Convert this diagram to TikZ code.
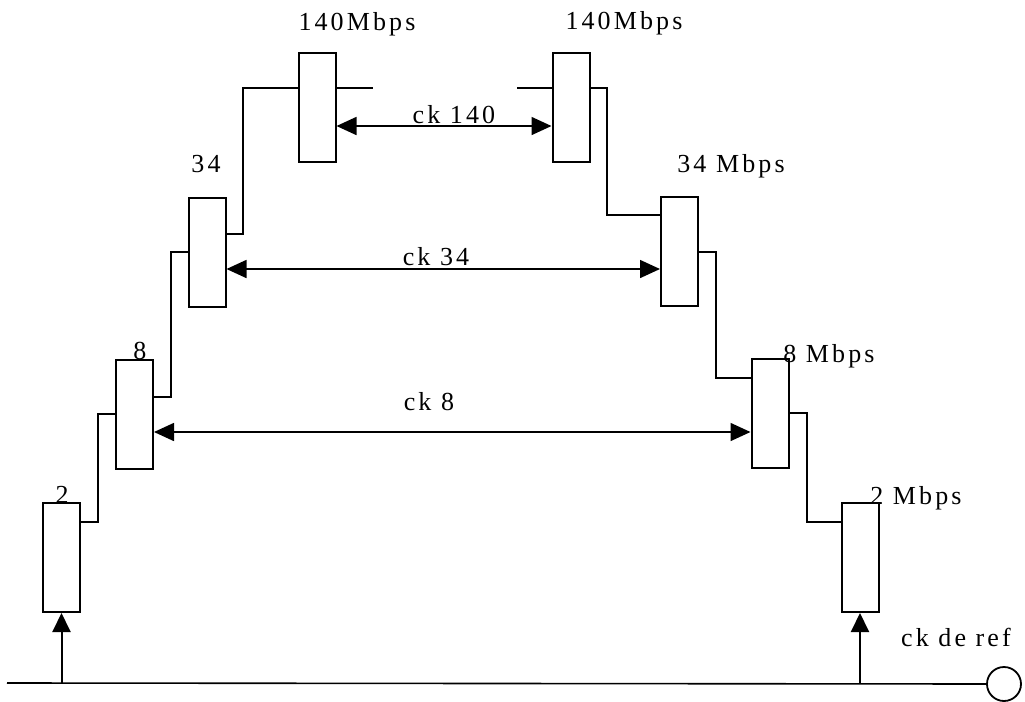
\documentclass[tikz,border=0pt]{standalone}
\usepackage{fontspec}
\setmainfont{Liberation Serif}[LetterSpace=12]
\usepackage{tikz}
\usetikzlibrary{arrows.meta, positioning, calc}
\tikzset{
  blknode/.style={rectangle,draw=black,line width=1pt,fill=white,inner sep=0pt,minimum width=18.5pt,minimum height=54.5pt},
  refnode/.style={circle,draw=black,line width=0.9pt,fill=white,inner sep=0pt,minimum size=17pt},
  wire/.style={line width=0.75pt,color=black},
  ckarr/.style={{Triangle[length=10pt,width=9pt]}-{Triangle[length=10pt,width=9pt]},line width=0.8pt},
  uparr/.style={-{Triangle[length=9.5pt,width=9pt]},line width=1pt},
  lbl/.style={anchor=base,inner sep=0pt,font=\fontsize{13}{15}\selectfont}
}
\begin{document}
\begin{tikzpicture}[x=0.5pt,y=-0.5pt]
  \useasboundingbox (0,0) rectangle (1025,702);

  %% Multiplexer stages (left side)
  \node[blknode] (l2)   at (61.5,557.5) {};
  \node[blknode] (l8)   at (134.5,414) {};
  \node[blknode] (l34)  at (207,252) {};
  \node[blknode] (l140) at (317,107) {};

  %% Demultiplexer stages (right side)
  \node[blknode] (r140) at (571,107) {};
  \node[blknode] (r34)  at (679.5,251) {};
  \node[blknode] (r8)   at (770,413) {};
  \node[blknode] (r2)   at (860,557.5) {};

  %% Rate labels
  \node[lbl] (t140l) at (357,30) {140Mbps};
  \node[lbl] (t140r) at (624,29) {140Mbps};
  \node[lbl] (t34l)  at (206,172) {34};
  \node[lbl] (t34r)  at (731,172) {34 Mbps};
  \node[lbl] (t8l)   at (140,359) {8};
  \node[lbl] (t8r)   at (829,362) {8 Mbps};
  \node[lbl] (t2l)   at (62,503) {2};
  \node[lbl] (t2r)   at (916,504) {2 Mbps};

  %% Links between stages
  \draw[wire] (l2.east |- 0,522) -- (98,522) -- (98,414) -- (l8.west |- 0,414);
  \draw[wire] (l8.east |- 0,397) -- (171,397) -- (171,252) -- (l34.west |- 0,252);
  \draw[wire] (l34.east |- 0,234) -- (243,234) -- (243,88) -- (l140.west |- 0,88);
  \coordinate (stubl) at (373,88);
  \coordinate (stubr) at (517,88);
  \draw[wire] (l140.east |- 0,88) -- (stubl);
  \draw[wire] (stubr) -- (r140.west |- 0,88);
  \draw[wire] (r140.east |- 0,88) -- (607,88) -- (607,215) -- (r34.west |- 0,215);
  \draw[wire] (r34.east |- 0,252) -- (716,252) -- (716,378) -- (r8.west |- 0,378);
  \draw[wire] (r8.east |- 0,413) -- (807,413) -- (807,522) -- (r2.west |- 0,522);

  %% Clocks
  \draw[ckarr] (l140.east |- 0,126) -- (r140.west |- 0,126);
  \node[lbl] (ck140) at (454,123) {ck 140};
  \draw[ckarr] (l34.east |- 0,269) -- (r34.west |- 0,269);
  \node[lbl] (ck34) at (436,265) {ck 34};
  \draw[ckarr] (l8.east |- 0,432) -- (r8.west |- 0,432);
  \node[lbl] (ck8) at (429,410) {ck 8};

  %% Reference clock line
  \coordinate (start) at (7,683);
  \node[refnode] (ref) at (1004,684) {};
  \draw[line width=0.8pt] (start) -- (ref.west);
  \draw[uparr] (l2.south |- 0,683) -- (l2.south);
  \draw[uparr] (r2.south |- 0,683) -- (r2.south);
  \node[lbl] (ckref) at (956,646) {ck de ref};
\end{tikzpicture}
\end{document}
